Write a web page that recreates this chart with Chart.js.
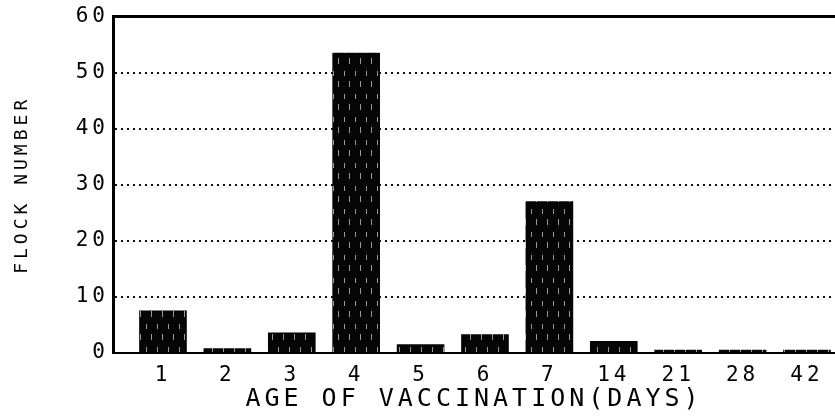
<!DOCTYPE html>
<html>
<head>
<meta charset="utf-8">
<script src="https://cdn.jsdelivr.net/npm/chart.js@4.4.0/dist/chart.umd.min.js"></script>
<style>
    html, body { margin: 0; padding: 0; background: #fff; }
    #wrap { width: 835px; height: 418px; }
</style>
</head>
<body>
<div id="wrap"><canvas id="barChart"></canvas></div>
<script>
    var ages = ['1', '2', '3', '4', '5', '6', '7', '14', '21', '28', '42'];
    var flocks = [7.5, 0.8, 3.6, 53.5, 1.5, 3.3, 27, 2.1, 0.5, 0.5, 0.5];
    var yTicks = [0, 10, 20, 30, 40, 50, 60];

    var font = "'DejaVu Sans Mono', 'Liberation Mono', monospace";

    // a bit of the old plotter texture inside the bars
    function barPattern() {
        var c = document.createElement('canvas');
        c.width = 11;
        c.height = 23;
        var g = c.getContext('2d');
        g.fillStyle = '#050505';
        g.fillRect(0, 0, 11, 23);
        g.fillStyle = '#9a9a9a';
        g.fillRect(3, 2, 1, 5);
        g.fillRect(8, 12, 1, 6);
        return g.createPattern(c, 'repeat');
    }

    // wide dot-matrix lettering
    var spacing = {
        id: 'spacing',
        beforeDraw: function(chart) {
            chart.ctx.letterSpacing = '4px';
        }
    };

    var barChart = new Chart(document.getElementById('barChart'), {
        type: 'bar',
        data: {
            datasets: [{
                data: ages.map(function(a, i) { return {x: i, y: flocks[i]}; }),
                backgroundColor: barPattern(),
                barThickness: 47
            }]
        },
        plugins: [spacing],
        options: {
            responsive: true,
            maintainAspectRatio: false,
            animation: false,
            layout: { padding: { top: 16, left: 8, right: 0, bottom: 4 } },
            plugins: {
                legend: { display: false },
                tooltip: { enabled: false }
            },
            scales: {
                x: {
                    type: 'linear',
                    position: 'bottom',
                    offset: false,
                    min: -0.776,
                    max: 10.435,
                    afterBuildTicks: function(scale) {
                        scale.ticks = ages.map(function(a, i) { return {value: i}; });
                    },
                    afterFit: function(scale) { scale.height = 61; },
                    grid: { display: false },
                    border: { display: true, color: '#000', width: 2 },
                    ticks: {
                        color: '#000',
                        padding: 2,
                        maxRotation: 0,
                        autoSkip: false,
                        font: { family: font, size: 21 },
                        callback: function(value) { return ages[value]; }
                    },
                    title: {
                        display: true,
                        text: 'AGE OF VACCINATION(DAYS)',
                        color: '#000',
                        padding: 0,
                        font: { family: font, size: 25 }
                    }
                },
                xTop: {
                    type: 'linear',
                    position: 'top',
                    afterFit: function(scale) { scale.height = 0; },
                    grid: { display: false, drawTicks: false },
                    border: { display: true, color: '#000', width: 3 },
                    ticks: { display: false }
                },
                y: {
                    min: 0,
                    max: 60,
                    afterBuildTicks: function(scale) {
                        scale.ticks = yTicks.map(function(v) { return {value: v}; });
                    },
                    afterFit: function(scale) { scale.width = 105; },
                    grid: {
                        drawTicks: false,
                        lineWidth: 2,
                        color: function(ctx) {
                            var v = ctx.tick ? ctx.tick.value : 0;
                            return (v === 0 || v === 60) ? 'rgba(0,0,0,0)' : '#111';
                        }
                    },
                    border: { display: true, color: '#000', width: 3, dash: [2, 4] },
                    ticks: {
                        color: '#000',
                        padding: 4,
                        font: { family: font, size: 21 }
                    },
                    title: {
                        display: true,
                        text: 'FLOCK NUMBER',
                        color: '#000',
                        padding: { top: 4, bottom: 0 },
                        font: { family: font, size: 18 }
                    }
                }
            }
        }
    });
</script>
</body>
</html>
